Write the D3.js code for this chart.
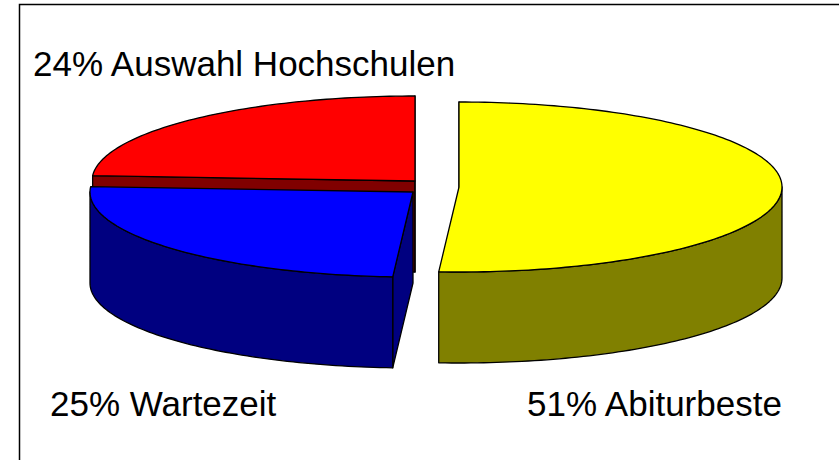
<!DOCTYPE html>
<html>
<head>
<meta charset="utf-8">
<script src="https://cdn.jsdelivr.net/npm/d3@7"></script>
<style>
  body { margin: 0; background: #fff; }
  svg { display: block; }
</style>
</head>
<body>
<div id="chart"></div>
<script>
// Data
var labels = ['Abiturbeste', 'Wartezeit', 'Auswahl Hochschulen'];
var values = [51, 25, 24];
var topColors = ['#ffff00', '#0000ff', '#ff0000'];
var sideColors = ['#808000', '#000080', '#800000'];

// Size / layout
var width = 839, height = 460;
var cx = 415, cy = 184;
var rx = 323, ry = 85, depth = 91;
// per-slice displacement (yellow pulled out to the right)
var offsets = [[44, 3], [-2, 8], [0, -3]];
var labelPos = [[527, 416], [50, 416], [33, 76]];

var svg = d3.select('#chart')
  .append('svg')
  .attr('width', width)
  .attr('height', height);

// Frame
svg.append('rect')
  .attr('x', 19.5)
  .attr('y', 4.5)
  .attr('width', 900)
  .attr('height', 500)
  .attr('fill', 'none')
  .attr('stroke', '#000')
  .attr('stroke-width', 1.5);

var pie = d3.pie().sort(null).value((d) => d.value);
var slices = pie(values.map((v, i) => ({ value: v, i: i })));

var pt = (c, a, dz) => [c[0] + rx * Math.sin(a), c[1] - ry * Math.cos(a) + dz];

var arcPts = (c, a0, a1, dz) => {
  var n = Math.max(2, Math.ceil((a1 - a0) / 0.02));
  return d3.range(n + 1).map((k) => pt(c, a0 + (a1 - a0) * k / n, dz));
};

var line = d3.line().curve(d3.curveLinearClosed);

// back to front
var backness = (s) => Math.cos((s.startAngle + s.endAngle) / 2);
slices.sort((a, b) => backness(b) - backness(a));

var pieG = svg.append('g')
  .attr('stroke', '#000')
  .attr('stroke-width', 1.3)
  .attr('stroke-linejoin', 'round');

slices.forEach((s) => {
  var i = s.data.i;
  var c = [cx + offsets[i][0], cy + offsets[i][1]];
  var a0 = s.startAngle, a1 = s.endAngle;
  var g = pieG.append('g').attr('class', 'slice');

  // radial faces
  [[a0, Math.sin(a0) < 1e-6], [a1, Math.sin(a1) > -1e-6]].forEach((f) => {
    if (!f[1]) return;
    g.append('path')
      .attr('fill', sideColors[i])
      .attr('d', line([c, pt(c, f[0], 0), pt(c, f[0], depth), [c[0], c[1] + depth]]));
  });

  // outer wall (front half only)
  var s0 = Math.max(a0, Math.PI / 2), s1 = Math.min(a1, 3 * Math.PI / 2);
  if (s1 > s0) {
    g.append('path')
      .attr('fill', sideColors[i])
      .attr('d', line(arcPts(c, s0, s1, 0).concat(arcPts(c, s0, s1, depth).reverse())));
  }

  // top face
  g.append('path')
    .attr('fill', topColors[i])
    .attr('d', line([c].concat(arcPts(c, a0, a1, 0))));
});

// Labels
svg.selectAll('.label')
  .data(labels)
  .enter().append('text')
  .attr('class', 'label')
  .attr('x', (d, i) => labelPos[i][0])
  .attr('y', (d, i) => labelPos[i][1])
  .style('font-family', '"Liberation Sans", Arial, sans-serif')
  .style('font-size', '35px')
  .attr('fill', '#000')
  .text((d, i) => values[i] + '% ' + d);
</script>
</body>
</html>
